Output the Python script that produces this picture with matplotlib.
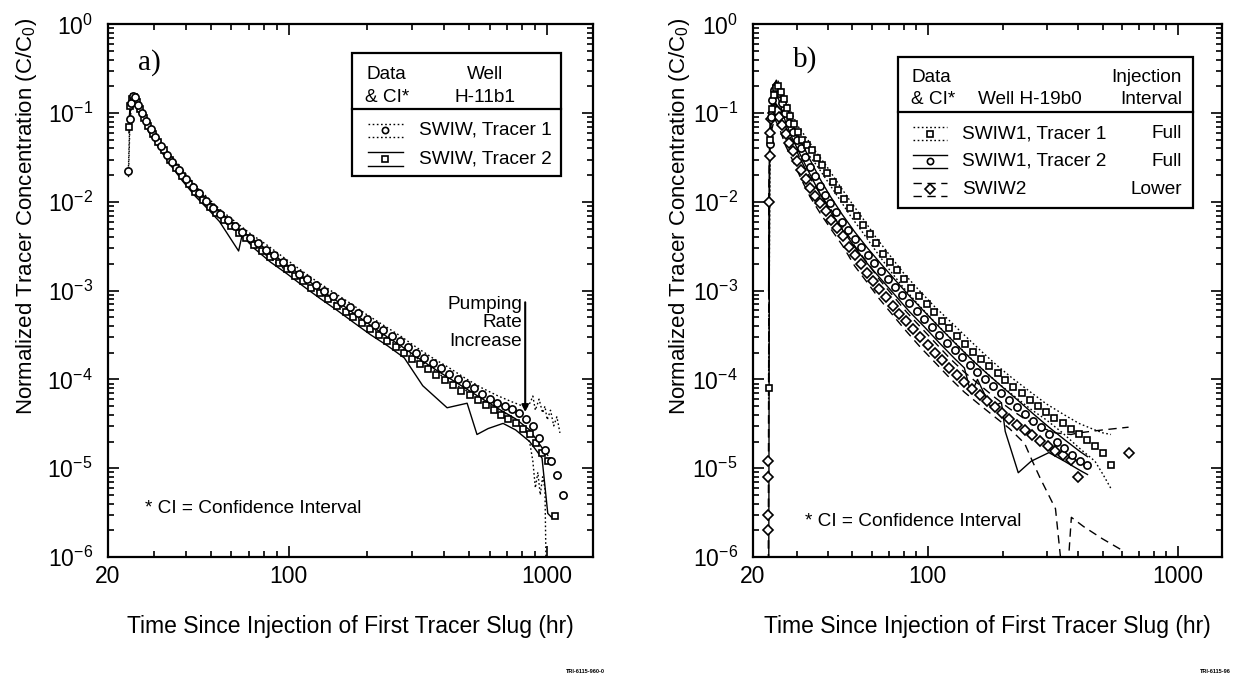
"""Normalized tracer concentration vs time since injection, two SWIW tests (a, b)."""

import numpy as np
import matplotlib
matplotlib.use('Agg')
import matplotlib.pyplot as plt
from matplotlib.patches import Rectangle
from matplotlib.lines import Line2D
from matplotlib.ticker import FixedLocator, FixedFormatter, LogLocator, NullFormatter

plt.rcParams['font.family'] = ['Liberation Sans', 'DejaVu Sans']
plt.rcParams['mathtext.fontset'] = 'custom'
plt.rcParams['mathtext.rm'] = 'Liberation Sans'
plt.rcParams['mathtext.default'] = 'regular'

# ---------------- panel a: well H-11b1 ----------------
a_t1 = [24.0, 24.3, 24.6, 25.0, 25.5, 26.2, 27.0, 28.0, 29.2, 30.5, 32.0, 33.7, 35.5, 37.5,
        40, 42.5, 45, 48, 51, 54, 58, 62, 66, 71, 76, 82, 88, 95, 102, 110, 118, 127, 137,
        148, 160, 172, 185, 200, 215, 232, 250, 270, 290, 312, 335, 360, 388, 418, 450, 485,
        520, 560, 600, 640, 685, 730, 780, 830, 880, 930, 980, 1030, 1090, 1150]
a_c1 = [0.022, 0.085, 0.13, 0.155, 0.15, 0.125, 0.10, 0.082, 0.066, 0.054, 0.043, 0.034,
        0.028, 0.023, 0.018, 0.0148, 0.0125, 0.0102, 0.0086, 0.0074, 0.0062, 0.0053, 0.0046,
        0.0039, 0.0034, 0.0029, 0.0025, 0.0021, 0.0018, 0.00155, 0.00134, 0.00116, 0.00100,
        0.00086, 0.00074, 0.00065, 0.00056, 0.00048, 0.00041, 0.00036, 0.00031, 0.00027,
        0.00023, 2.0e-4, 1.75e-4, 1.52e-4, 1.33e-4, 1.15e-4, 1.0e-4, 8.8e-5, 8.0e-5, 6.8e-5,
        6.1e-5, 5.5e-5, 5.0e-5, 4.6e-5, 4.2e-5, 3.6e-5, 3.0e-5, 2.2e-5, 1.6e-5, 1.2e-5,
        8.5e-6, 5.0e-6]

a_t2 = [24.1, 24.4, 24.8, 25.2, 25.8, 26.6, 27.5, 28.6, 29.8, 31.2, 32.8, 34.6, 36.5, 38.7,
        41, 43.5, 46.5, 49.5, 52.5, 56, 60, 64, 68.5, 73.5, 79, 85, 91.5, 98.5, 106, 114,
        122.5, 132, 142, 154, 166, 178, 192, 207, 223, 241, 260, 280, 301, 323, 347, 373, 402,
        433, 466, 502, 540, 580, 620, 662, 707, 755, 805, 855, 905, 955, 1005, 1075]
a_c2 = [0.069, 0.12, 0.145, 0.15, 0.135, 0.11, 0.088, 0.071, 0.058, 0.047, 0.038, 0.030,
        0.024, 0.0195, 0.0158, 0.0130, 0.0106, 0.0088, 0.0075, 0.0063, 0.0053, 0.0045, 0.0039,
        0.0033, 0.0028, 0.0024, 0.00205, 0.00175, 0.00148, 0.00127, 0.00108, 0.00093, 0.00080,
        0.00068, 0.00058, 0.00050, 0.00043, 0.00037, 0.00032, 0.00027, 2.35e-4, 2.0e-4,
        1.72e-4, 1.5e-4, 1.3e-4, 1.13e-4, 9.8e-5, 8.6e-5, 7.5e-5, 6.6e-5, 5.8e-5, 5.1e-5,
        4.5e-5, 4.0e-5, 3.6e-5, 3.2e-5, 2.8e-5, 2.4e-5, 1.9e-5, 1.5e-5, 1.2e-5, 2.9e-6]

# confidence intervals, tracer 1 (dotted)
a_ci1_up_t = [24.0, 24.3, 24.6, 25.0, 26.2, 28.0, 30.5, 33.7, 37.5, 42.5, 48, 54, 62, 71, 82,
              95, 110, 127, 148, 172, 200, 232, 270, 312, 360, 418, 485, 560, 640, 730, 780,
              830, 860, 880, 900, 930, 960, 980, 1000, 1030, 1060, 1090, 1120]
a_ci1_up = [0.025, 0.095, 0.145, 0.17, 0.14, 0.092, 0.061, 0.038, 0.026, 0.0166, 0.0115,
            0.0083, 0.0060, 0.0044, 0.0033, 0.0024, 0.00175, 0.0013, 0.00097, 0.00073, 0.00054,
            0.00041, 0.00031, 0.00023, 1.75e-4, 1.35e-4, 1.02e-4, 8.0e-5, 6.6e-5, 5.6e-5,
            5.2e-5, 4.8e-5, 5.5e-5, 6.5e-5, 4.5e-5, 6.0e-5, 4.2e-5, 5.0e-5, 3.5e-5, 4.5e-5,
            3.0e-5, 3.8e-5, 2.5e-5]
a_ci1_lo_t = [24.0, 24.3, 24.6, 25.0, 26.2, 28.0, 30.5, 33.7, 37.5, 42.5, 48, 54, 62, 71, 82,
              95, 110, 127, 148, 172, 200, 232, 270, 312, 360, 418, 485, 560, 640, 730, 780,
              830, 860, 880, 900, 920, 940, 960, 980, 1000]
a_ci1_lo = [0.019, 0.075, 0.115, 0.14, 0.11, 0.073, 0.048, 0.030, 0.020, 0.0131, 0.0090,
            0.0066, 0.0047, 0.0034, 0.0025, 0.0018, 0.00136, 0.00102, 0.00076, 0.00057,
            0.00042, 0.00031, 0.00023, 1.75e-4, 1.3e-4, 9.6e-5, 7.5e-5, 5.8e-5, 4.6e-5, 3.8e-5,
            3.0e-5, 2.6e-5, 1.8e-5, 1.2e-5, 6.0e-6, 9.0e-6, 5.0e-6, 8.0e-6, 6.0e-6, 1e-7]

# confidence intervals, tracer 2 (solid)
a_ci2_up_t = [24.1, 24.4, 24.8, 25.2, 26.6, 28.6, 31.2, 34.6, 38.7, 43.5, 49.5, 56, 64, 73.5,
              85, 98.5, 114, 132, 154, 178, 207, 241, 280, 323, 373, 433, 502, 580, 662, 755,
              855, 955, 1005]
a_ci2_up = [0.078, 0.135, 0.16, 0.165, 0.122, 0.079, 0.052, 0.0335, 0.0218, 0.0146, 0.0099,
            0.0071, 0.0050, 0.0037, 0.0027, 0.00196, 0.00142, 0.00104, 0.00076, 0.00056,
            0.00041, 0.00030, 2.25e-4, 1.68e-4, 1.27e-4, 9.7e-5, 7.4e-5, 5.7e-5, 4.5e-5, 3.6e-5,
            2.7e-5, 1.7e-5, 1.4e-5]
a_ci2_lo_t = [24.1, 24.4, 24.8, 25.2, 26.6, 28.6, 31.2, 34.6, 38.7, 43.5, 49.5, 54, 64, 66,
              73.5, 85, 98.5, 114, 132, 154, 178, 207, 241, 280, 330, 410, 490, 535, 591, 675,
              755, 855, 955, 1005, 1040]
a_ci2_lo = [0.060, 0.105, 0.13, 0.135, 0.098, 0.063, 0.042, 0.027, 0.0174, 0.0116, 0.0079,
            0.0060, 0.0028, 0.0042, 0.0030, 0.0021, 0.00155, 0.00112, 0.00082, 0.00060,
            0.00044, 0.00032, 0.00024, 1.75e-4, 8.5e-5, 4.8e-5, 5.4e-5, 2.4e-5, 2.8e-5, 3.2e-5,
            2.7e-5, 2.0e-5, 1.3e-5, 3.1e-6, 2.8e-6]

# ---------------- panel b: well H-19b0 ----------------
b_t1 = [23.1, 23.4, 23.8, 24.2, 24.7, 25.2, 25.8, 26.5, 27.3, 28.2, 29.2, 30.3, 31.5, 32.8,
        34.3, 35.9, 37.6, 39.5, 41.6, 43.9, 46.3, 49, 52, 55, 58.5, 62, 66, 70.5, 75, 80, 86,
        92, 99, 106, 114, 122, 131, 141, 152, 163, 176, 190, 204, 220, 237, 256, 276, 298,
        321, 346, 373, 402, 433, 466, 502, 540]
b_c1 = [8e-5, 0.05, 0.11, 0.16, 0.19, 0.2, 0.175, 0.145, 0.115, 0.092, 0.075, 0.061, 0.05,
        0.044, 0.038, 0.031, 0.026, 0.021, 0.0168, 0.0135, 0.0108, 0.0086, 0.0069, 0.0055,
        0.0043, 0.0034, 0.0026, 0.0021, 0.0017, 0.00135, 0.00108, 0.00087, 0.00070, 0.00057,
        0.00046, 0.00038, 0.00031, 0.00025, 0.000205, 0.00017, 0.00014, 1.17e-4, 9.8e-5,
        8.3e-5, 7.0e-5, 5.9e-5, 5.0e-5, 4.3e-5, 3.7e-5, 3.2e-5, 2.8e-5, 2.4e-5, 2.1e-5,
        1.8e-5, 1.5e-5, 1.1e-5]

b_t2 = [23.3, 23.6, 23.9, 24.3, 24.8, 25.4, 26.1, 26.9, 27.8, 28.8, 29.9, 31.1, 32.4, 33.8,
        35.3, 37, 38.8, 40.8, 43, 45.5, 48, 51, 54, 57.5, 61, 65, 69.5, 74, 79, 84.5, 90.5, 97,
        104, 111, 119, 128, 137, 147, 158, 170, 183, 197, 212, 228, 245, 264, 284, 305, 328,
        352, 378, 405, 435]
b_c2 = [0.045, 0.09, 0.14, 0.18, 0.2, 0.17, 0.13, 0.1, 0.078, 0.062, 0.05, 0.04, 0.032, 0.025,
        0.0195, 0.0153, 0.0121, 0.0096, 0.0076, 0.0060, 0.0048, 0.0038, 0.0031, 0.0025,
        0.00205, 0.00167, 0.00135, 0.00110, 0.00089, 0.00072, 0.00059, 0.00048, 0.00039,
        0.00032, 0.00026, 2.15e-4, 1.78e-4, 1.47e-4, 1.22e-4, 1.01e-4, 8.4e-5, 7.0e-5, 5.8e-5,
        4.9e-5, 4.1e-5, 3.4e-5, 2.9e-5, 2.4e-5, 2.0e-5, 1.7e-5, 1.4e-5, 1.2e-5, 1.1e-5]

b_t3 = [23.05, 23.05, 23.05, 23.05, 23.15, 23.3, 23.5, 23.7, 24.0, 24.4, 24.9, 25.5, 26.2,
        27.0, 27.9, 28.9, 30.0, 31.2, 32.5, 33.9, 35.5, 37.2, 39.1, 41.1, 43.3, 45.7, 48.3, 51,
        54, 57, 60.5, 64, 68, 72.5, 77, 82, 87.5, 93.5, 100, 107, 114, 122, 131, 140, 150, 161,
        172, 185, 198, 212, 228, 244, 262, 281, 302, 324, 348, 374, 400, 635]
b_c3 = [1.2e-5, 8e-6, 3e-6, 2e-6, 0.01, 0.033, 0.06, 0.085, 0.10, 0.11, 0.105, 0.09, 0.073,
        0.058, 0.046, 0.037, 0.029, 0.023, 0.018, 0.0145, 0.0118, 0.0096, 0.0078, 0.0063,
        0.0051, 0.0041, 0.0031, 0.0025, 0.0020, 0.0016, 0.00128, 0.00104, 0.00084, 0.00068,
        0.00055, 0.00045, 0.00037, 0.00030, 2.45e-4, 2.0e-4, 1.65e-4, 1.36e-4, 1.12e-4,
        9.4e-5, 7.9e-5, 6.7e-5, 5.7e-5, 4.9e-5, 4.2e-5, 3.6e-5, 3.1e-5, 2.7e-5, 2.35e-5,
        2.05e-5, 1.8e-5, 1.58e-5, 1.4e-5, 1.25e-5, 8e-6, 1.5e-5]

# SWIW1 tracer 1 CI (dotted)
b_ci1_t = [23.1, 23.4, 23.8, 24.2, 24.7, 25.2, 26.5, 28.2, 30.3, 32.8, 35.9, 39.5, 43.9, 49,
           55, 62, 70.5, 80, 92, 106, 122, 141, 163, 190, 220, 256, 298, 346, 402, 466, 502, 540]
b_ci1_up = [1e-4, 0.06, 0.13, 0.19, 0.22, 0.23, 0.17, 0.107, 0.071, 0.052, 0.036, 0.025,
            0.0160, 0.0102, 0.0065, 0.0040, 0.0025, 0.00158, 0.00102, 0.00067, 0.00046,
            0.00031, 0.00021, 1.42e-4, 1.01e-4, 7.3e-5, 5.3e-5, 4.1e-5, 3.2e-5, 2.7e-5, 2.5e-5,
            2.4e-5]
b_ci1_lo = [6e-5, 0.04, 0.09, 0.13, 0.16, 0.17, 0.12, 0.077, 0.051, 0.036, 0.026, 0.0175,
            0.0112, 0.0070, 0.0045, 0.0028, 0.0017, 0.00108, 0.00069, 0.00045, 0.00030,
            0.00020, 1.35e-4, 9.2e-5, 6.6e-5, 4.7e-5, 3.5e-5, 2.5e-5, 1.7e-5, 1.2e-5, 8.5e-6,
            5.9e-6]

# SWIW1 tracer 2 CI (solid)
b_ci2_up_t = [23.1, 23.3, 23.6, 23.9, 24.3, 24.8, 25.4, 26.9, 28.8, 31.1, 33.8, 37, 40.8,
              45.5, 51, 57.5, 65, 74, 84.5, 97, 111, 128, 147, 170, 197, 228, 264, 305, 352,
              405, 435]
b_ci2_up = [0.001, 0.055, 0.11, 0.17, 0.21, 0.235, 0.2, 0.12, 0.074, 0.048, 0.03, 0.0183,
            0.0115, 0.0072, 0.0046, 0.003, 0.002, 0.00132, 0.00087, 0.00058, 0.00039, 0.00026,
            1.76e-4, 1.21e-4, 8.4e-5, 5.9e-5, 4.1e-5, 2.9e-5, 2.1e-5, 1.55e-5, 1.35e-5]
b_ci2_lo_t = [23.1, 23.3, 23.6, 23.9, 24.3, 24.8, 25.4, 26.9, 28.8, 31.1, 33.8, 37, 40.8,
              45.5, 51, 57.5, 65, 74, 84.5, 97, 111, 128, 140, 149, 158, 179, 197, 204, 230,
              259, 305, 352, 405, 435]
b_ci2_lo = [1e-7, 0.035, 0.07, 0.11, 0.15, 0.165, 0.14, 0.082, 0.051, 0.033, 0.0205, 0.0125,
            0.0078, 0.0049, 0.0031, 0.002, 0.00135, 0.00089, 0.00058, 0.00039, 0.00026,
            1.72e-4, 1.35e-4, 6.9e-5, 1.0e-4, 4.8e-5, 5.5e-5, 2.6e-5, 8.9e-6, 1.2e-5, 1.5e-5,
            1.2e-5, 9.5e-6, 8.5e-6]

# SWIW2 CI (dashed)
b_ci3_up_t = [23.05, 23.15, 23.3, 23.5, 23.8, 24.4, 25.5, 27.0, 28.9, 31.2, 33.9, 37.2, 41.1,
              45.7, 51, 57, 64, 72.5, 82, 93.5, 107, 122, 140, 161, 185, 212, 244, 281, 324,
              374, 400, 500, 635]
b_ci3_up = [1e-7, 0.013, 0.042, 0.075, 0.105, 0.135, 0.112, 0.071, 0.046, 0.029, 0.0185,
            0.0122, 0.0081, 0.0053, 0.0032, 0.0021, 0.00134, 0.00088, 0.00058, 0.00039,
            0.00026, 1.75e-4, 1.21e-4, 8.7e-5, 6.3e-5, 4.7e-5, 3.6e-5, 2.9e-5, 2.5e-5, 2.4e-5,
            2.5e-5, 2.7e-5, 2.9e-5]
b_ci3_lo_t = [23.05, 23.15, 23.3, 23.5, 23.8, 24.4, 25.5, 27.0, 28.9, 31.2, 33.9, 37.2, 41.1,
              45.7, 51, 57, 64, 72.5, 82, 93.5, 107, 122, 140, 161, 185, 212, 244, 262, 281,
              302, 324, 342, 352, 375, 420, 500, 596]
b_ci3_lo = [1e-7, 0.0077, 0.025, 0.046, 0.066, 0.087, 0.068, 0.043, 0.029, 0.018, 0.0113,
            0.0074, 0.0049, 0.0032, 0.0019, 0.00126, 0.00081, 0.00053, 0.00035, 0.00023,
            1.55e-4, 1.05e-4, 7.2e-5, 5.2e-5, 3.8e-5, 2.8e-5, 1.9e-5, 1.2e-5, 7.8e-6, 5.2e-6,
            3.5e-6, 8e-7, 2e-7, 2.8e-6, 2.2e-6, 1.6e-6, 1.2e-6]

DOT = (0, (1.2, 1.8))
DASH = (0, (6, 4))
MK = dict(linestyle='none', markerfacecolor='white', markeredgecolor='black',
          markeredgewidth=1.2, zorder=3)
LN = dict(color='black', linewidth=1.0, zorder=2)
FS_TEXT = 13.7


def style_axes(ax, ylab_x):
    ax.set_xscale('log')
    ax.set_yscale('log')
    ax.set_xlim(20, 1500)
    ax.set_ylim(1e-6, 1)
    ax.xaxis.set_major_locator(FixedLocator([20, 100, 1000]))
    ax.xaxis.set_major_formatter(FixedFormatter(['20', '100', '1000']))
    ax.xaxis.set_minor_locator(LogLocator(base=10, subs=np.arange(2, 10), numticks=20))
    ax.xaxis.set_minor_formatter(NullFormatter())
    ax.yaxis.set_major_locator(LogLocator(base=10, numticks=10))
    ax.yaxis.set_minor_locator(LogLocator(base=10, subs=np.arange(2, 10), numticks=20))
    ax.yaxis.set_minor_formatter(NullFormatter())
    ax.tick_params(which='both', direction='in', top=True, right=True, width=1.2)
    ax.tick_params(which='major', length=8, labelsize=16.5)
    ax.tick_params(axis='y', which='major', pad=11)
    ax.tick_params(axis='x', which='major', pad=6)
    ax.tick_params(which='minor', length=4)
    for sp in ax.spines.values():
        sp.set_linewidth(1.6)
    ax.set_xlabel('Time Since Injection of First Tracer Slug (hr)', fontsize=16.5)
    ax.set_ylabel('Normalized Tracer Concentration (C/C$_0$)', fontsize=16)
    ax.xaxis.set_label_coords(0.5, -0.108)
    ax.yaxis.set_label_coords(ylab_x, 0.64)


def legend_symbol(ax, x0, x1, y, ls, marker, ms, dy=0.0125):
    ax.add_line(Line2D([x0, x1], [y + dy, y + dy], transform=ax.transAxes, ls=ls,
                       color='black', lw=1.0, zorder=6))
    ax.add_line(Line2D([x0, x1], [y - dy, y - dy], transform=ax.transAxes, ls=ls,
                       color='black', lw=1.0, zorder=6))
    ax.add_line(Line2D([(x0 + x1) / 2], [y], transform=ax.transAxes, marker=marker,
                       markersize=ms, zorder=7, **{k: v for k, v in MK.items() if k != 'zorder'}))


fig = plt.figure(figsize=(12.46, 6.76), dpi=100)
ax1 = fig.add_axes([0.0867, 0.176, 0.389, 0.788])
ax2 = fig.add_axes([0.6043, 0.176, 0.3764, 0.788])

# ---- panel a ----
ax1.plot(a_ci1_up_t, a_ci1_up, ls=DOT, **LN)
ax1.plot(a_ci1_lo_t, a_ci1_lo, ls=DOT, **LN)
ax1.plot(a_ci2_up_t, a_ci2_up, ls='-', **LN)
ax1.plot(a_ci2_lo_t, a_ci2_lo, ls='-', **LN)
ax1.plot(a_t2, a_c2, marker='s', markersize=5, **MK)
ax1.plot(a_t1, a_c1, marker='o', markersize=5.2, **MK)
style_axes(ax1, -0.142)

ax1.text(0.062, 0.928, 'a)', transform=ax1.transAxes, fontsize=21,
         family=['Liberation Serif', 'DejaVu Serif'], va='center')
ax1.text(0.076, 0.092, '* CI = Confidence Interval', transform=ax1.transAxes,
         fontsize=FS_TEXT, va='center')
ax1.annotate('', xy=(822, 4.3e-5), xytext=(822, 7.4e-4),
             arrowprops=dict(arrowstyle='-|>', color='black', lw=1.5, mutation_scale=10,
                             shrinkA=0, shrinkB=0))
ax1.text(800, 8.8e-4, 'Pumping\nRate\nIncrease', ha='right', va='top',
         multialignment='right', fontsize=FS_TEXT, linespacing=1.12)

# legend table a
ax1.add_patch(Rectangle((0.503, 0.7148), 0.431, 0.2308, transform=ax1.transAxes,
                        facecolor='white', edgecolor='black', lw=1.6, zorder=5))
ax1.add_line(Line2D([0.503, 0.934], [0.8405, 0.8405], transform=ax1.transAxes,
                    color='black', lw=1.6, zorder=6))
for txt, x, y, ha in [('Data', 0.534, 0.906, 'left'), ('& CI*', 0.530, 0.863, 'left'),
                      ('Well', 0.777, 0.906, 'center'), ('H-11b1', 0.777, 0.863, 'center')]:
    ax1.text(x, y, txt, transform=ax1.transAxes, fontsize=FS_TEXT, ha=ha, va='center',
             zorder=7)
legend_symbol(ax1, 0.536, 0.608, 0.801, DOT, 'o', 4.5)
legend_symbol(ax1, 0.536, 0.608, 0.747, '-', 's', 4.5)
ax1.text(0.641, 0.801, 'SWIW, Tracer 1', transform=ax1.transAxes, fontsize=FS_TEXT,
         va='center', zorder=7)
ax1.text(0.641, 0.747, 'SWIW, Tracer 2', transform=ax1.transAxes, fontsize=FS_TEXT,
         va='center', zorder=7)

# ---- panel b ----
ax2.plot(b_ci1_t, b_ci1_up, ls=DOT, **LN)
ax2.plot(b_ci1_t, b_ci1_lo, ls=DOT, **LN)
ax2.plot(b_ci2_up_t, b_ci2_up, ls='-', **LN)
ax2.plot(b_ci2_lo_t, b_ci2_lo, ls='-', **LN)
ax2.plot(b_ci3_up_t, b_ci3_up, ls=DASH, **LN)
ax2.plot(b_ci3_lo_t, b_ci3_lo, ls=DASH, **LN)
ax2.plot(b_t3, b_c3, marker='D', markersize=5.5, **MK)
ax2.plot(b_t2, b_c2, marker='o', markersize=5.2, **MK)
ax2.plot(b_t1, b_c1, marker='s', markersize=5, **MK)
style_axes(ax2, -0.130)

ax2.text(0.085, 0.934, 'b)', transform=ax2.transAxes, fontsize=21,
         family=['Liberation Serif', 'DejaVu Serif'], va='center')
ax2.text(0.111, 0.066, '* CI = Confidence Interval', transform=ax2.transAxes,
         fontsize=FS_TEXT, va='center')

ax2.add_patch(Rectangle((0.309, 0.655), 0.629, 0.283, transform=ax2.transAxes,
                        facecolor='white', edgecolor='black', lw=1.6, zorder=5))
ax2.add_line(Line2D([0.309, 0.938], [0.835, 0.835], transform=ax2.transAxes,
                    color='black', lw=1.6, zorder=6))
for txt, x, y, ha in [('Data', 0.339, 0.901, 'left'), ('& CI*', 0.337, 0.859, 'left'),
                      ('Well H-19b0', 0.591, 0.859, 'center'),
                      ('Injection', 0.915, 0.901, 'right'), ('Interval', 0.915, 0.859, 'right')]:
    ax2.text(x, y, txt, transform=ax2.transAxes, fontsize=FS_TEXT, ha=ha, va='center',
             zorder=7)
rows_b = [(0.795, DOT, 's', 4.5, 'SWIW1, Tracer 1', 'Full'),
          (0.743, '-', 'o', 4.5, 'SWIW1, Tracer 2', 'Full'),
          (0.690, DASH, 'D', 5, 'SWIW2', 'Lower')]
for y, ls, mk, ms, name, interval in rows_b:
    legend_symbol(ax2, 0.341, 0.414, y, ls, mk, ms)
    ax2.text(0.446, y, name, transform=ax2.transAxes, fontsize=FS_TEXT, va='center',
             zorder=7)
    ax2.text(0.915, y, interval, transform=ax2.transAxes, fontsize=FS_TEXT, ha='right',
             va='center', zorder=7)

fig.text(0.454, 0.004, 'TRI-6115-960-0', fontsize=4, fontweight='bold')
fig.text(0.963, 0.004, 'TRI-6115-96', fontsize=4, fontweight='bold')

fig.savefig('out.png', dpi=100)
